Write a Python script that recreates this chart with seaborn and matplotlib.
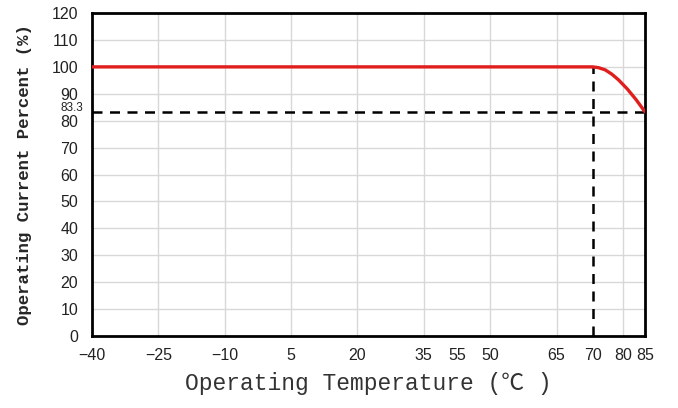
import numpy as np
import pandas as pd
import seaborn as sns
import matplotlib
matplotlib.use("Agg")
import matplotlib.pyplot as plt

# derating curve (x in axis position units)
temp = [-40, 73.2, 74.5, 76, 77.5, 79, 81, 83, 85]
current = [100, 100, 99.7, 98.9, 97.3, 95.2, 91.8, 87.8, 83.3]

knee_x = 73.2
end_y = 83.3

# tick positions and their (odd) printed labels
xtick_pos = [-40, -25, -10, 5, 20, 35, 42.6, 50, 65, 73.2, 80, 85]
xtick_lab = ["\u221240", "\u221225", "\u221210", "5", "20", "35", "55", "50", "65", "70", "80", "85"]
xgrid = [-25, -10, 5, 20, 35, 50, 65, 80]
yticks = list(range(0, 121, 10))

sns.set_style("white")
plt.rcParams['font.family'] = ['Liberation Sans', 'DejaVu Sans']

fig = plt.figure(figsize=(6.78, 4.08), dpi=100)
ax = fig.add_axes([0.1357, 0.1765, 0.8156, 0.7915])

df = pd.DataFrame({"t": temp, "c": current})

# light grid
for gx in xgrid:
    ax.axvline(gx, color="#d8d8d8", lw=1, zorder=1)
for gy in yticks[1:-1]:
    ax.axhline(gy, color="#d8d8d8", lw=1, zorder=1)

ax.plot([-40, 85], [end_y, end_y], color="black", lw=1.8, dashes=(4, 3), zorder=3)
ax.plot([knee_x, knee_x], [0, 100], color="black", lw=1.8, dashes=(4, 3), zorder=3)
sns.lineplot(data=df, x="t", y="c", ax=ax, color="#e01e1e", lw=2.4, zorder=4)

ax.set_xlim(-40, 85)
ax.set_ylim(0, 120)
ax.set_xticks(xtick_pos)
ax.set_xticklabels(xtick_lab, fontsize=11.5)
ax.set_yticks(yticks)
ax.set_yticklabels([str(v) for v in yticks], fontsize=11.5)
ax.tick_params(which="both", length=0, labelcolor="#222222")
ax.tick_params(axis="y", pad=10)
ax.tick_params(axis="x", pad=9)

ax.text(-42, end_y + 1.3, "83.3", ha="right", va="center", fontsize=8.5,
        color="#222222", transform=ax.transData)

for s in ax.spines.values():
    s.set_color("black")
    s.set_linewidth(2)

ax.set_xlabel("Operating Temperature (\u2103 )", fontsize=16.5, color="#333333",
              family=["Liberation Mono", "Noto Sans CJK SC"], labelpad=6)
ax.set_ylabel("Operating Current Percent (%)", fontsize=12.5, fontweight="bold",
              family=["Liberation Mono", "DejaVu Sans"], labelpad=14)

fig.savefig("out.png", dpi=100)
